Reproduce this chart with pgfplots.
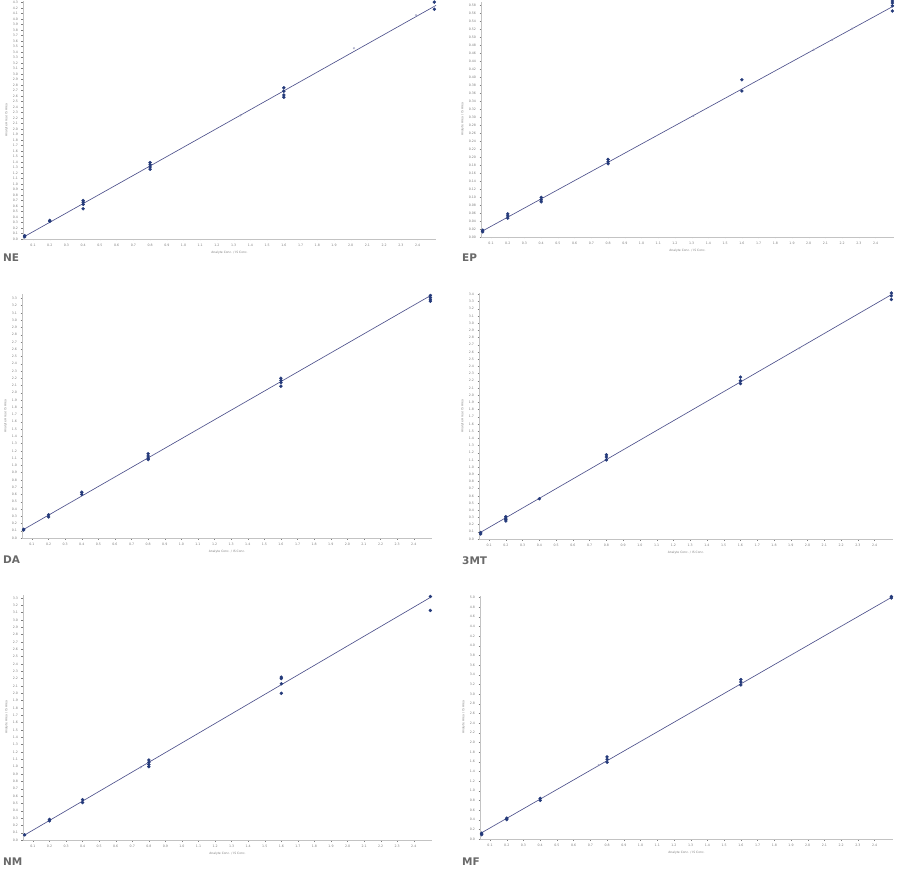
\documentclass[border=0pt]{standalone}
\usepackage{pgfplots}
\pgfplotsset{compat=1.18}
\usepackage{fontspec}
\setmainfont{DejaVu Sans}
\definecolor{ptcol}{RGB}{36,58,122}
\definecolor{lncol}{RGB}{78,82,140}
\definecolor{axcol}{RGB}{195,195,195}
\definecolor{ttlcol}{RGB}{105,105,105}
\definecolor{tkcol}{RGB}{125,125,125}
\pgfplotsset{
 panel/.style={
  scale only axis, anchor=south west,
  axis x line=bottom, axis y line=left,
  axis line style={-, axcol, line width=0.9pt},
  xmin=0.04, xmax=2.51, ymin=0,
  xtick={0.1,0.2,0.3,0.4,0.5,0.6,0.7,0.8,0.9,1.0,1.1,1.2,1.3,1.4,1.5,1.6,1.7,1.8,1.9,2.0,2.1,2.2,2.3,2.4},
  tick style={tkcol, line width=0.3pt},
  major tick length=1.5pt,
  tick align=outside,
  ticklabel style={font=\fontsize{3.2}{3.5}\selectfont, text=tkcol},
  /pgf/number format/assume math mode=true,
  xticklabel style={/pgf/number format/.cd, fixed, fixed zerofill, precision=1},
  yticklabel style={/pgf/number format/.cd, fixed, fixed zerofill, precision=1},
  xlabel={Analyte Conc. / IS Conc.},
  ylabel={Analyte Area / IS Area},
  label style={font=\fontsize{3}{3.5}\selectfont, text=tkcol},
  xlabel style={yshift=2pt},
  ylabel style={yshift=-2pt},
  clip=false,
 },
 pts/.style={only marks, mark=*, mark size=1.5pt, mark options={draw=ptcol, fill=ptcol}},
 fit/.style={lncol, line width=0.65pt, no marks},
 qc/.style={only marks, mark=o, mark size=0.9pt, mark options={draw=lncol!60, line width=0.3pt}},
}
\begin{document}
\begin{tikzpicture}
\path[use as bounding box] (0,0) rectangle (904pt,868pt);

% NE
\begin{axis}[panel, at={(23pt,629pt)}, width=413pt, height=238pt, ymax=4.33,
  ytick={0,0.1,...,4.35}]
\addplot[fit] coordinates {(0.04,0.03) (2.51,4.25)};
\addplot[qc] coordinates {(1.34,2.25) (2.02,3.47) (2.39,4.07)};
\addplot[pts] coordinates {
 (0.05,0.04) (0.05,0.06)
 (0.2,0.32) (0.2,0.34)
 (0.4,0.70) (0.4,0.67) (0.4,0.63) (0.4,0.55)
 (0.8,1.39) (0.8,1.35) (0.8,1.31) (0.8,1.27)
 (1.6,2.75) (1.6,2.69) (1.6,2.62) (1.6,2.58)
 (2.5,4.31) (2.5,4.18)};
\end{axis}

% EP
\begin{axis}[panel, at={(481pt,631pt)}, width=413pt, height=235pt, ymax=0.5875,
  ytick={0,0.02,...,0.59},
  yticklabel style={/pgf/number format/.cd, fixed, fixed zerofill, precision=2}]
\addplot[fit] coordinates {(0.04,0.013) (2.51,0.578)};
\addplot[qc] coordinates {(1.31,0.303) (2.03,0.468) (2.14,0.493) (2.26,0.521)};
\addplot[pts] coordinates {
 (0.05,0.013) (0.05,0.017)
 (0.2,0.058) (0.2,0.053) (0.2,0.047)
 (0.4,0.099) (0.4,0.093) (0.4,0.088)
 (0.8,0.194) (0.8,0.188) (0.8,0.183)
 (1.6,0.393) (1.6,0.365)
 (2.5,0.590) (2.5,0.585) (2.5,0.578) (2.5,0.565)};
\end{axis}

% DA
\begin{axis}[panel, at={(22pt,330pt)}, width=410pt, height=244pt, ymax=3.36,
  ytick={0,0.1,...,3.35}]
\addplot[fit] coordinates {(0.04,0.105) (2.51,3.35)};
\addplot[pts] coordinates {
 (0.05,0.11) (0.05,0.12)
 (0.2,0.32) (0.2,0.29)
 (0.4,0.63) (0.4,0.60)
 (0.8,1.16) (0.8,1.13) (0.8,1.10) (0.8,1.08)
 (1.6,2.20) (1.6,2.17) (1.6,2.14) (1.6,2.09)
 (2.5,3.34) (2.5,3.31) (2.5,3.28) (2.5,3.26)};
\end{axis}

% 3MT
\begin{axis}[panel, at={(479pt,329pt)}, width=414pt, height=246pt, ymax=3.42,
  ytick={0,0.1,...,3.45}]
\addplot[fit] coordinates {(0.04,0.08) (2.51,3.41)};
\addplot[qc] coordinates {(1.95,2.65)};
\addplot[pts] coordinates {
 (0.05,0.09) (0.05,0.07)
 (0.2,0.31) (0.2,0.29) (0.2,0.27) (0.2,0.25)
 (0.4,0.56)
 (0.8,1.17) (0.8,1.14) (0.8,1.10)
 (1.6,2.25) (1.6,2.20) (1.6,2.16)
 (2.5,3.42) (2.5,3.38) (2.5,3.33)};
\end{axis}

% NM
\begin{axis}[panel, at={(23pt,28pt)}, width=409pt, height=245pt, ymax=3.34,
  ytick={0,0.1,...,3.35}]
\addplot[fit] coordinates {(0.04,0.055) (2.51,3.32)};
\addplot[qc] coordinates {(0.75,0.99)};
\addplot[pts] coordinates {
 (0.05,0.07)
 (0.2,0.28) (0.2,0.26)
 (0.4,0.55) (0.4,0.51)
 (0.8,1.09) (0.8,1.06) (0.8,1.03) (0.8,1.00)
 (1.6,2.22) (1.6,2.20) (1.6,2.13) (1.6,2.00)
 (2.5,3.32) (2.5,3.13)};
\end{axis}

% MF
\begin{axis}[panel, at={(480pt,29pt)}, width=413pt, height=243pt, ymax=5.03,
  ytick={0,0.2,...,4.9}]
\addplot[fit] coordinates {(0.04,0.11) (2.51,5.02)};
\addplot[qc] coordinates {(0.75,1.53)};
\addplot[pts] coordinates {
 (0.05,0.12) (0.05,0.09)
 (0.2,0.43) (0.2,0.40)
 (0.4,0.84) (0.4,0.80)
 (0.8,1.70) (0.8,1.65) (0.8,1.59)
 (1.6,3.30) (1.6,3.25) (1.6,3.19)
 (2.5,5.02) (2.5,4.99)};
\end{axis}

\tikzset{ttl/.style={anchor=west, inner sep=0pt, text=ttlcol, font=\bfseries\fontsize{10.5}{11}\selectfont}}
\node[ttl] at (3pt,610pt) {NE};
\node[ttl] at (462pt,610pt) {EP};
\node[ttl] at (3pt,308pt) {DA};
\node[ttl] at (462pt,307pt) {3MT};
\node[ttl] at (3pt,6pt) {NM};
\node[ttl] at (462pt,6pt) {MF};
\end{tikzpicture}
\end{document}
